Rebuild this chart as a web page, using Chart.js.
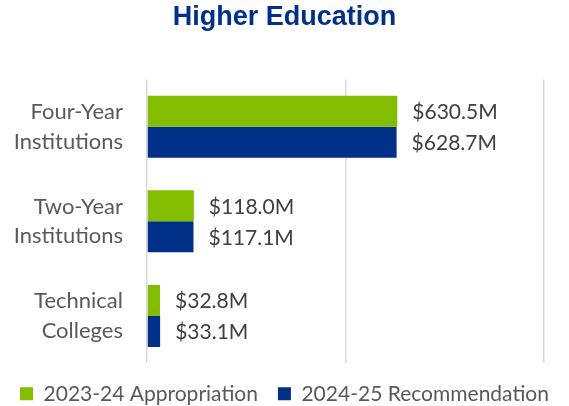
<!DOCTYPE html>
<html>
<head>
<meta charset="utf-8">
<script src="https://cdn.jsdelivr.net/npm/chart.js@4/dist/chart.umd.min.js"></script>
<style>
  html, body { margin: 0; padding: 0; background: #fff; overflow: hidden; }
  #wrap { width: 569px; height: 406px; overflow: hidden; }
  #box { width: 569px; height: 417px; }
</style>
</head>
<body>
<div id="wrap"><div id="box"><canvas id="chart"></canvas></div></div>
<script>
// Data
const categories = [['Four-Year', 'Institutions'], ['Two-Year', 'Institutions'], ['Technical', 'Colleges']];
const appropriation2324 = [630.5, 118.0, 32.8];
const recommendation2425 = [628.7, 117.1, 33.1];
const seriesNames = ['2023-24 Appropriation', '2024-25 Recommendation'];

// draws "$xxx.xM" after each bar
const valueLabels = {
    id: 'valueLabels',
    afterDatasetsDraw(chart) {
        const ctx = chart.ctx;
        ctx.save();
        ctx.font = '21px Lato';
        ctx.fillStyle = '#404040';
        ctx.textBaseline = 'middle';
        ctx.textAlign = 'left';
        chart.data.datasets.forEach((ds, i) => {
            chart.getDatasetMeta(i).data.forEach((bar, j) => {
                ctx.fillText('$' + ds.data[j].toFixed(1) + 'M', bar.x + 15, bar.y + 1);
            });
        });
        ctx.restore();
    }
};

new Chart(document.getElementById('chart'), {
    type: 'bar',
    data: {
        labels: categories,
        datasets: [
            { label: seriesNames[0], data: appropriation2324, backgroundColor: '#84BD00' },
            { label: seriesNames[1], data: recommendation2425, backgroundColor: '#003087' }
        ]
    },
    options: {
        indexAxis: 'y',
        responsive: true,
        maintainAspectRatio: false,
        animation: false,
        layout: { padding: { left: 0, right: 0, top: 0, bottom: 0 } },
        datasets: { bar: { categoryPercentage: 0.655, barPercentage: 1.0 } },
        scales: {
            x: {
                min: 0, max: 1000,
                ticks: { display: false, stepSize: 500 },
                grid: { color: '#d9d9d9', lineWidth: 1.5, drawTicks: false },
                border: { display: false }
            },
            y: {
                ticks: { color: '#595959', font: { family: 'Lato', size: 22, lineHeight: 1.35 }, padding: 24 },
                grid: { display: false, drawTicks: false },
                border: { display: false },
                afterFit(scale) { scale.width = 147; }
            },
            // empty strip that keeps the plot off the right edge
            yRight: {
                type: 'category',
                position: 'right',
                ticks: { display: false },
                grid: { display: false },
                border: { display: false },
                afterFit(scale) { scale.width = 25; }
            }
        },
        plugins: {
            title: {
                display: true,
                text: 'Higher Education',
                color: '#003087',
                font: { family: 'Liberation Sans', size: 27, weight: 'bold' },
                padding: { top: 1, bottom: 46 }
            },
            legend: {
                position: 'bottom',
                labels: {
                    color: '#595959',
                    font: { family: 'Lato', size: 21 },
                    boxWidth: 13, boxHeight: 13,
                    padding: 20
                }
            },
            tooltip: { enabled: false }
        }
    },
    plugins: [valueLabels]
});
</script>
</body>
</html>
